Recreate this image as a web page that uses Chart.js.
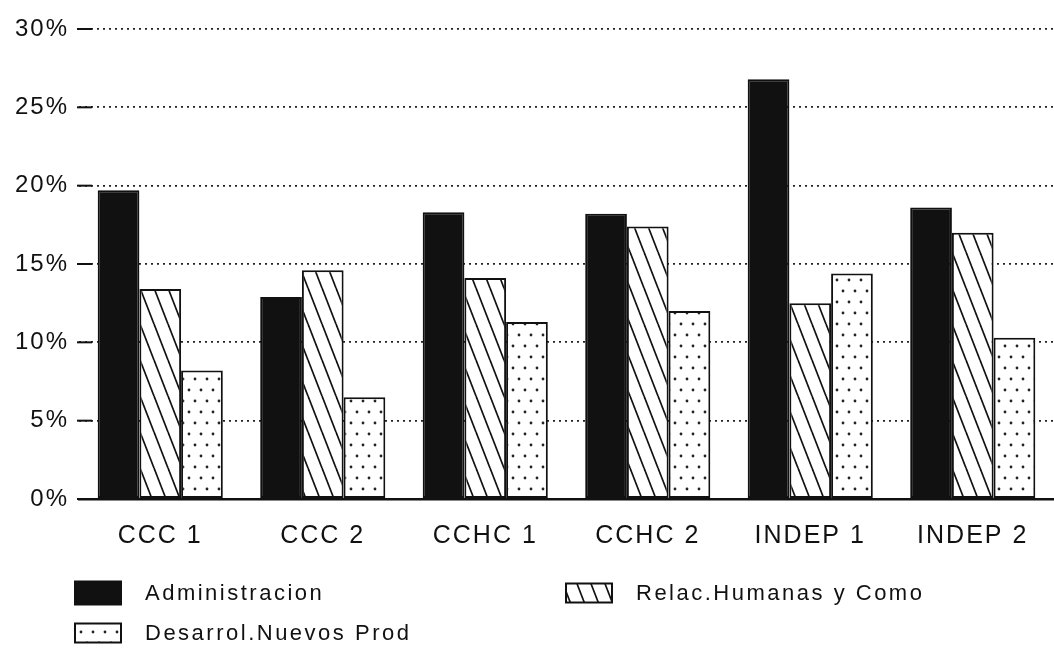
<!DOCTYPE html>
<html>
<head>
<meta charset="utf-8">
<script src="https://cdn.jsdelivr.net/npm/chart.js@4/dist/chart.umd.min.js"></script>
<style>
    body { margin: 0; background: #fff; }
    #wrap { width: 1054px; height: 650px; position: relative; }
</style>
</head>
<body>
<div id="wrap"><canvas id="barChart"></canvas></div>
<script>
const categories = ['CCC 1', 'CCC 2', 'CCHC 1', 'CCHC 2', 'INDEP 1', 'INDEP 2'];
const seriesNames = ['Administracion', 'Relac.Humanas y Como', 'Desarrol.Nuevos Prod'];
const administracion = [19.7, 12.9, 18.3, 18.2, 26.8, 18.6];
const relacHumanas = [13.4, 14.6, 14.1, 17.4, 12.5, 17.0];
const desarrolNuevos = [8.2, 6.5, 11.3, 12.0, 14.4, 10.3];
const yTicks = [0, 5, 10, 15, 20, 25, 30];

const FONT = '"Liberation Sans", Arial, sans-serif';
const INK = '#111';

function hatchPattern() {
    const c = document.createElement('canvas');
    c.width = 14; c.height = 36;
    const g = c.getContext('2d');
    g.fillStyle = '#fff';
    g.fillRect(0, 0, 14, 36);
    g.strokeStyle = INK;
    g.lineWidth = 1.7;
    for (const off of [-14, 0, 14]) {
        g.beginPath();
        g.moveTo(off, 0);
        g.lineTo(off + 14, 36);
        g.stroke();
    }
    return g.createPattern(c, 'repeat');
}

function dotPattern() {
    const c = document.createElement('canvas');
    c.width = 12; c.height = 22;
    const g = c.getContext('2d');
    g.fillStyle = '#fff';
    g.fillRect(0, 0, 12, 22);
    g.fillStyle = '#222';
    [[3, 5], [9, 16]].forEach(p => {
        g.beginPath();
        g.arc(p[0], p[1], 1.4, 0, Math.PI * 2);
        g.fill();
    });
    return g.createPattern(c, 'repeat');
}

const fills = [INK, hatchPattern(), dotPattern()];

// solid short tick dashes where the dotted grid lines start, plus spacing of the text
const styling = {
    id: 'styling',
    beforeDraw(chart) {
        chart.ctx.letterSpacing = '2px';
    },
    afterDatasetsDraw(chart) {
        const ctx = chart.ctx;
        const y = chart.scales.y;
        const left = chart.chartArea.left;
        ctx.save();
        ctx.strokeStyle = INK;
        ctx.lineWidth = 2;
        yTicks.forEach(v => {
            const py = y.getPixelForValue(v);
            ctx.beginPath();
            ctx.moveTo(left - 2, py);
            ctx.lineTo(left + 13, py);
            ctx.stroke();
        });
        ctx.restore();
    },
    afterDraw(chart) {
        const ctx = chart.ctx;
        const items = [
            { x: 75, y: 593, i: 0 },
            { x: 566, y: 593, i: 1 },
            { x: 75, y: 633, i: 2 }
        ];
        ctx.save();
        ctx.letterSpacing = '2.5px';
        ctx.font = '22px ' + FONT;
        ctx.textBaseline = 'middle';
        items.forEach(it => {
            const w = 46, h = it.i === 0 ? 23 : 19;
            ctx.fillStyle = fills[it.i];
            ctx.fillRect(it.x, it.y - h / 2, w, h);
            ctx.strokeStyle = INK;
            ctx.lineWidth = 2;
            ctx.strokeRect(it.x, it.y - h / 2, w, h);
            ctx.fillStyle = INK;
            ctx.fillText(seriesNames[it.i], it.x + 70, it.y + 1);
        });
        ctx.restore();
    }
};

new Chart(document.getElementById('barChart'), {
    type: 'bar',
    data: {
        labels: categories,
        datasets: [administracion, relacHumanas, desarrolNuevos].map((d, i) => ({
            label: seriesNames[i],
            data: d,
            backgroundColor: fills[i],
            borderColor: INK,
            borderWidth: 2,
            borderSkipped: false,
            barPercentage: 1,
            categoryPercentage: 0.77
        }))
    },
    options: {
        responsive: true,
        maintainAspectRatio: false,
        animation: false,
        layout: { padding: { top: 29, right: 0, left: 0, bottom: 0 } },
        plugins: {
            legend: { display: false },
            tooltip: { enabled: false }
        },
        scales: {
            x: {
                grid: { display: false },
                border: { display: true, color: INK, width: 2.5 },
                ticks: {
                    color: INK,
                    padding: 14,
                    font: { family: FONT, size: 25 }
                },
                afterFit(scale) { scale.height = 151; }
            },
            y: {
                min: 0,
                max: 30,
                afterBuildTicks(scale) { scale.ticks = yTicks.map(v => ({ value: v })); },
                grid: {
                    color: '#222',
                    lineWidth: 1.8,
                    drawTicks: false
                },
                border: { display: false, dash: [2, 4] },
                ticks: {
                    color: INK,
                    padding: 10,
                    font: { family: FONT, size: 24 },
                    callback: v => v + '%'
                },
                afterFit(scale) { scale.width = 79; }
            }
        }
    },
    plugins: [styling]
});
</script>
</body>
</html>
